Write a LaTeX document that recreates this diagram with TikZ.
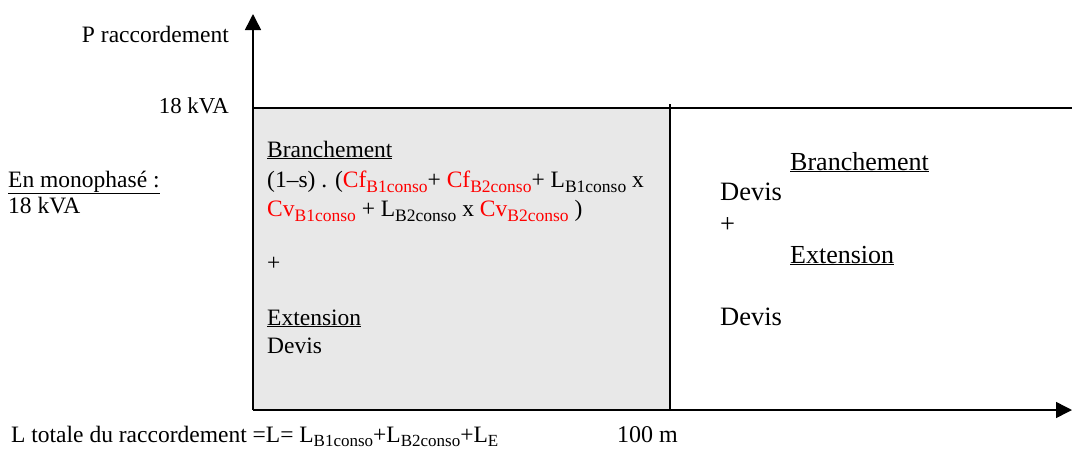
\documentclass[tikz,border=0pt]{standalone}
\usepackage{fontspec}
\setmainfont{Liberation Serif}
\usetikzlibrary{arrows.meta}
\newcommand{\idx}[1]{\raisebox{-5pt}{\fontsize{17.5}{17.5}\selectfont #1}}
\newcommand{\idxp}[1]{\raisebox{-4pt}{\fontsize{17}{17}\selectfont #1}}
\newcommand{\rouge}[1]{\textcolor{red}{#1}}
\begin{document}
\begin{tikzpicture}[x=1pt,y=-1pt,
    txt/.style={anchor=base west, inner sep=0pt, font=\fontsize{23.5}{28}\selectfont},
    txtr/.style={anchor=base east, inner sep=0pt, font=\fontsize{23.5}{28}\selectfont},
    big/.style={anchor=base west, inner sep=0pt, font=\fontsize{26.5}{30}\selectfont},
    axe/.style={line width=1.5pt, -{Triangle[length=16pt,width=16pt]}}]
    \useasboundingbox (0,0) rectangle (1072,448);
    % Zone grise
    \fill[gray!18] (253,108) rectangle (670,410);
    \coordinate (O) at (253,410);
    \coordinate (ytop) at (253,14);
    \coordinate (xend) at (1072,410);
    \coordinate (pa) at (253,108);
    \coordinate (pb) at (1072,108);
    \coordinate (la) at (670,104);
    \coordinate (lb) at (670,410);
    % Limites
    \draw[line width=1.5pt] (pa) -- (pb);
    \draw[line width=1.5pt] (la) -- (lb);
    % Axes
    \draw[axe] (O) -- (ytop);
    \draw[axe] (O) -- (xend);
    % Textes des axes
    \node[txtr] (ptitre) at (229,42) {P raccordement};
    \node[txtr, font=\fontsize{22.8}{26}\selectfont] (p18) at (229,113) {18 kVA};
    \node[txt] (mono) at (8,187) {\underline{En monophasé :}};
    \node[txt] (mono18) at (8,213) {18 kVA};
    \node[txt] (ltot) at (11,442)
        {L totale du raccordement =L= L\idxp{B1conso}+L\idxp{B2conso}+L\idxp{E}};
    \node[txt, font=\fontsize{24}{26}\selectfont] (cent) at (617,442) {100 m};
    % Zone < 100 m
    \node[txt] (br1) at (267,157) {\underline{Branchement}};
    \node[txt] (f1) at (267,187)
        {(1–s) . (\rouge{Cf\idx{B1conso}}+ \rouge{Cf\idx{B2conso}}+ L\idx{B1conso} x};
    \node[txt] (f2) at (267,216)
        {\rouge{Cv\idx{B1conso}} + L\idx{B2conso} x \rouge{Cv\idx{B2conso}} )};
    \node[txt] (plus1) at (267,270) {+};
    \node[txt] (ext1) at (267,325) {\underline{Extension}};
    \node[txt] (dev1) at (267,353) {Devis};
    % Zone > 100 m
    \node[big, font=\fontsize{26}{30}\selectfont] (br2) at (790,170) {\underline{Branchement}};
    \node[big] (dev2) at (720,200) {Devis};
    \node[big] (plus2) at (720,232) {+};
    \node[big, font=\fontsize{26}{30}\selectfont] (ext2) at (790,263) {\underline{Extension}};
    \node[big] (dev3) at (720,325) {Devis};
\end{tikzpicture}
\end{document}
